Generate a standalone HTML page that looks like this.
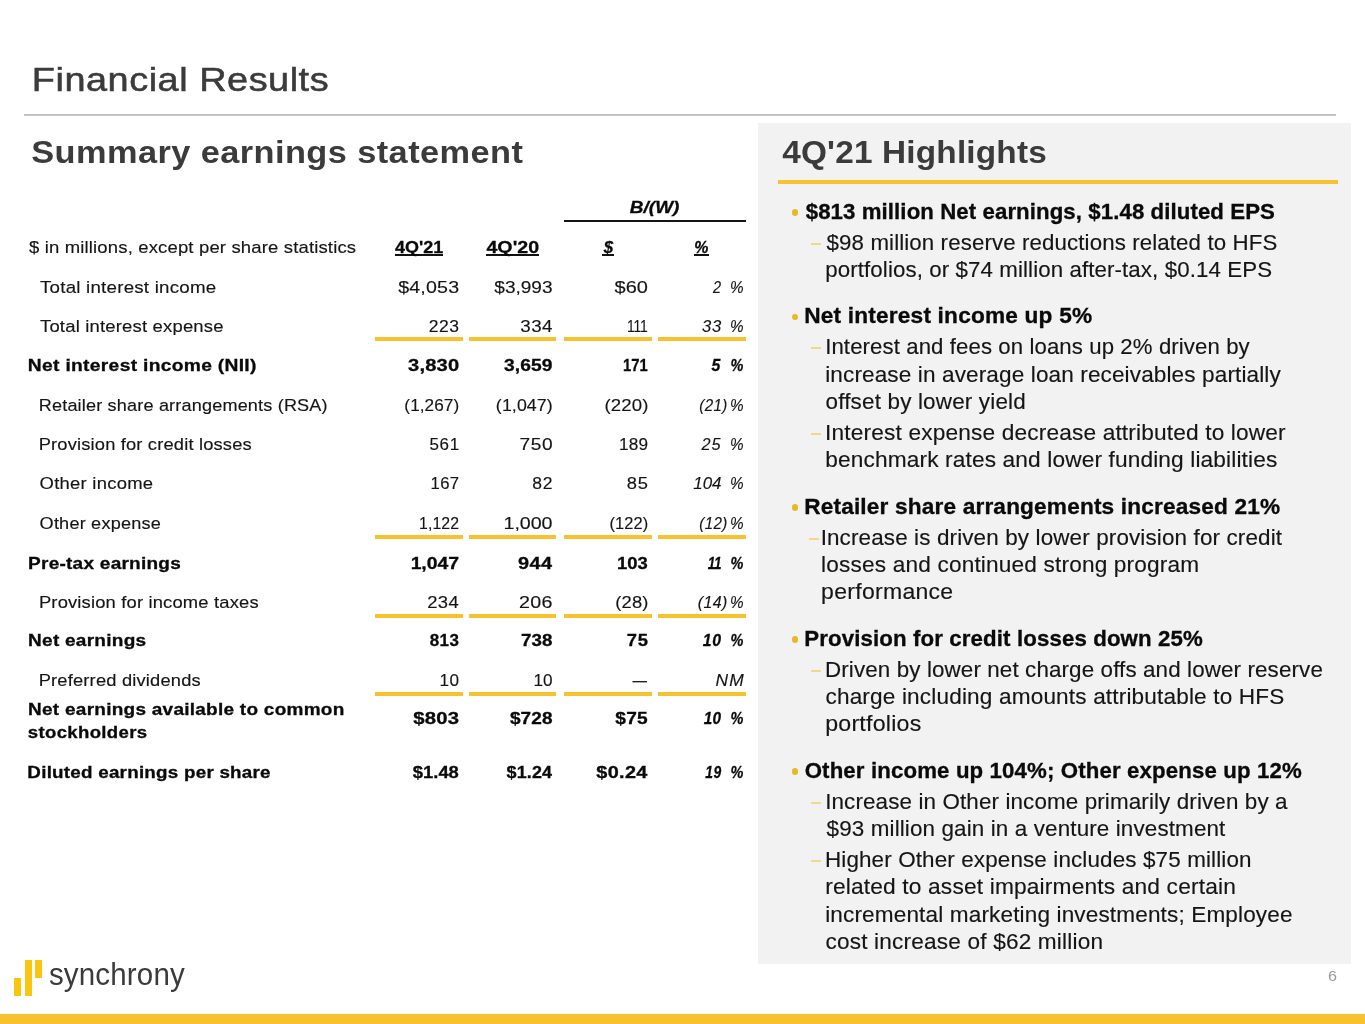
<!DOCTYPE html>
<html lang="en">
<head>
<meta charset="utf-8">
<title>Financial Results</title>
<style>
html,body{margin:0;padding:0;background:#fff}
body{width:1365px;height:1024px;position:relative;overflow:hidden;font-family:"Liberation Sans",sans-serif}
header,main,section,aside,footer,h1,h2,ul,li,p{display:block;margin:0;padding:0;font:inherit;position:static}
.x{position:absolute;white-space:nowrap;transform-origin:0 0;display:block}
.r{position:absolute}
.title{font-size:34px;line-height:41px;font-weight:400;font-style:normal;color:#3b3b3b;-webkit-text-stroke:0.55px #3b3b3b}
.h2{font-size:32px;line-height:38px;font-weight:700;font-style:normal;color:#3b3b3b}
.t{font-size:17px;line-height:20px;font-weight:400;font-style:normal;color:#151515;-webkit-text-stroke:0.15px #151515}
.tb{font-size:17px;line-height:20px;font-weight:700;font-style:normal;color:#0a0a0a;-webkit-text-stroke:0.3px #0a0a0a}
.ti{font-size:17px;line-height:20px;font-weight:400;font-style:italic;color:#151515;-webkit-text-stroke:0.15px #151515}
.tbi{font-size:17px;line-height:20px;font-weight:700;font-style:italic;color:#0a0a0a;-webkit-text-stroke:0.3px #0a0a0a}
.b{font-size:21.5px;line-height:26px;font-weight:700;font-style:normal;color:#0a0a0a;-webkit-text-stroke:0.3px #0a0a0a}
.s{font-size:21.5px;line-height:26px;font-weight:400;font-style:normal;color:#151515;-webkit-text-stroke:0.15px #151515}
.logo{font-size:31px;line-height:37px;font-weight:400;font-style:normal;color:#3b3b3b}
.pg{font-size:15px;line-height:18px;font-weight:400;font-style:normal;color:#9a9a9a}
</style>
</head>
<body>
<header class="header">
<div class="r" style="left:24px;top:114px;width:1312px;height:2px;background:#c4c4c4"></div>
<span class="x title" style="left:31px;top:59px;transform:translateX(0.82px) scaleX(1.1135);letter-spacing:0.478px">Financial Results</span>
</header>
<section class="table">
<div class="r" style="left:564px;top:220px;width:181.5px;height:2px;background:#151515"></div>
<div class="r" style="left:394.6px;top:254.4px;width:48.4px;height:1.6px;background:#111"></div>
<div class="r" style="left:486.3px;top:254.4px;width:52.7px;height:1.6px;background:#111"></div>
<div class="r" style="left:602px;top:254.4px;width:12px;height:1.6px;background:#111"></div>
<div class="r" style="left:694.2px;top:254.4px;width:14.8px;height:1.6px;background:#111"></div>
<div class="r" style="left:375px;top:337px;width:88px;height:4px;background:#f8c12e"></div>
<div class="r" style="left:468.5px;top:337px;width:87.5px;height:4px;background:#f8c12e"></div>
<div class="r" style="left:564px;top:337px;width:88px;height:4px;background:#f8c12e"></div>
<div class="r" style="left:657.6px;top:337px;width:88.4px;height:4px;background:#f8c12e"></div>
<div class="r" style="left:375px;top:535px;width:88px;height:4px;background:#f8c12e"></div>
<div class="r" style="left:468.5px;top:535px;width:87.5px;height:4px;background:#f8c12e"></div>
<div class="r" style="left:564px;top:535px;width:88px;height:4px;background:#f8c12e"></div>
<div class="r" style="left:657.6px;top:535px;width:88.4px;height:4px;background:#f8c12e"></div>
<div class="r" style="left:375px;top:614px;width:88px;height:4px;background:#f8c12e"></div>
<div class="r" style="left:468.5px;top:614px;width:87.5px;height:4px;background:#f8c12e"></div>
<div class="r" style="left:564px;top:614px;width:88px;height:4px;background:#f8c12e"></div>
<div class="r" style="left:657.6px;top:614px;width:88.4px;height:4px;background:#f8c12e"></div>
<div class="r" style="left:375px;top:692.4px;width:88px;height:4px;background:#f8c12e"></div>
<div class="r" style="left:468.5px;top:692.4px;width:87.5px;height:4px;background:#f8c12e"></div>
<div class="r" style="left:564px;top:692.4px;width:88px;height:4px;background:#f8c12e"></div>
<div class="r" style="left:657.6px;top:692.4px;width:88.4px;height:4px;background:#f8c12e"></div>
<span class="x h2" style="left:31px;top:133px;transform:translateX(0.28px) scaleX(1.0735);letter-spacing:0.39px">Summary earnings statement</span>
<span class="x tbi" style="left:629px;top:198px;transform:translateX(0.69px) scaleX(1.1139);letter-spacing:0.068px">B/(W)</span>
<span class="x t" style="left:29px;top:238px;transform:translateX(0px) scaleX(1.0877);letter-spacing:0.144px">$ in millions, except per share statistics</span>
<span class="x tb" style="left:395px;top:238px;transform:translateX(0px) scaleX(1.0581);letter-spacing:-0.012px">4Q&#x27;21</span>
<span class="x tb" style="left:486px;top:238px;transform:translateX(0.43px) scaleX(1.1555);letter-spacing:0.016px">4Q&#x27;20</span>
<span class="x tbi" style="left:603px;top:238px;transform:translateX(0.66px) scaleX(0.9909)">$</span>
<span class="x tbi" style="left:694px;top:238px;transform:translateX(0.34px) scaleX(0.9333)">%</span>
<span class="x t" style="left:40px;top:278px;transform:translateX(0px) scaleX(1.1014);letter-spacing:0.204px">Total interest income</span>
<span class="x t" style="left:398px;top:278px;transform:translateX(0.21px) scaleX(1.1544);letter-spacing:0.141px">$4,053</span>
<span class="x t" style="left:494px;top:278px;transform:translateX(0.32px) scaleX(1.1214);letter-spacing:-0.022px">$3,993</span>
<span class="x t" style="left:614px;top:278px;transform:translateX(0.4px) scaleX(1.1752);letter-spacing:0.107px">$60</span>
<span class="x ti" style="left:712px;top:278px;transform:translateX(0.93px) scaleX(0.85)">2</span>
<span class="x ti" style="left:729px;top:278px;transform:translateX(0.92px) scaleX(0.9)">%</span>
<span class="x t" style="left:40px;top:317px;transform:translateX(0px) scaleX(1.0868);letter-spacing:0.165px">Total interest expense</span>
<span class="x t" style="left:428px;top:317px;transform:translateX(0.74px) scaleX(1.0283);letter-spacing:0.543px">223</span>
<span class="x t" style="left:520px;top:317px;transform:translateX(0.31px) scaleX(1.1036);letter-spacing:0.402px">334</span>
<span class="x t" style="left:626px;top:317px;transform:translateX(0.88px) scaleX(0.8161);letter-spacing:-0.125px">111</span>
<span class="x ti" style="left:702px;top:317px;transform:translateX(0px) scaleX(0.9766);letter-spacing:0.675px">33</span>
<span class="x ti" style="left:729px;top:317px;transform:translateX(0.92px) scaleX(0.9)">%</span>
<span class="x tb" style="left:27px;top:356px;transform:translateX(0.87px) scaleX(1.1321);letter-spacing:0.264px">Net interest income (NII)</span>
<span class="x tb" style="left:408px;top:356px;transform:translateX(0.06px) scaleX(1.1833);letter-spacing:0.161px">3,830</span>
<span class="x tb" style="left:503px;top:356px;transform:translateX(0.91px) scaleX(1.1286);letter-spacing:0.13px">3,659</span>
<span class="x tb" style="left:622px;top:356px;transform:translateX(0.89px) scaleX(0.8696);letter-spacing:0.063px">171</span>
<span class="x tbi" style="left:711px;top:356px;transform:translateX(0.51px) scaleX(0.93)">5</span>
<span class="x tbi" style="left:730px;top:356px;transform:translateX(0.62px) scaleX(0.85)">%</span>
<span class="x t" style="left:38px;top:396px;transform:translateX(0.73px) scaleX(1.0639);letter-spacing:0.159px">Retailer share arrangements (RSA)</span>
<span class="x t" style="left:404px;top:396px;transform:translateX(0.34px) scaleX(1.0091);letter-spacing:0.08px">(1,267)</span>
<span class="x t" style="left:495px;top:396px;transform:translateX(0.87px) scaleX(1.0442);letter-spacing:0.093px">(1,047)</span>
<span class="x t" style="left:604px;top:396px;transform:translateX(0.56px) scaleX(1.094);letter-spacing:0.108px">(220)</span>
<span class="x ti" style="left:699px;top:396px;transform:translateX(0.31px) scaleX(0.8894);letter-spacing:0.4px">(21)</span>
<span class="x ti" style="left:729px;top:396px;transform:translateX(0.92px) scaleX(0.9)">%</span>
<span class="x t" style="left:38px;top:435px;transform:translateX(0.68px) scaleX(1.0776);letter-spacing:0.152px">Provision for credit losses</span>
<span class="x t" style="left:429px;top:435px;transform:translateX(0.61px) scaleX(0.9997);letter-spacing:0.557px">561</span>
<span class="x t" style="left:519px;top:435px;transform:translateX(0.53px) scaleX(1.1251);letter-spacing:0.478px">750</span>
<span class="x t" style="left:618px;top:435px;transform:translateX(0.99px) scaleX(1.0108);letter-spacing:0.194px">189</span>
<span class="x ti" style="left:701px;top:435px;transform:translateX(0.48px) scaleX(0.9582);letter-spacing:0.921px">25</span>
<span class="x ti" style="left:729px;top:435px;transform:translateX(0.92px) scaleX(0.9)">%</span>
<span class="x t" style="left:39px;top:474px;transform:translateX(0.57px) scaleX(1.0835);letter-spacing:0.242px">Other income</span>
<span class="x t" style="left:430px;top:474px;transform:translateX(0.48px) scaleX(0.9811);letter-spacing:0.392px">167</span>
<span class="x t" style="left:532px;top:474px;transform:translateX(0.2px) scaleX(1.0296);letter-spacing:0.773px">82</span>
<span class="x t" style="left:626px;top:474px;transform:translateX(0.67px) scaleX(1.0783);letter-spacing:0.836px">85</span>
<span class="x ti" style="left:693px;top:474px;transform:translateX(0.22px) scaleX(0.9961);letter-spacing:-0.012px">104</span>
<span class="x ti" style="left:729px;top:474px;transform:translateX(0.92px) scaleX(0.9)">%</span>
<span class="x t" style="left:39px;top:514px;transform:translateX(0.59px) scaleX(1.0653);letter-spacing:0.187px">Other expense</span>
<span class="x t" style="left:419px;top:514px;transform:translateX(0.07px) scaleX(0.9297);letter-spacing:0.086px">1,122</span>
<span class="x t" style="left:503px;top:514px;transform:translateX(0.6px) scaleX(1.1561);letter-spacing:-0.056px">1,000</span>
<span class="x t" style="left:609px;top:514px;transform:translateX(0.48px) scaleX(0.9625);letter-spacing:0.166px">(122)</span>
<span class="x ti" style="left:699px;top:514px;transform:translateX(0.31px) scaleX(0.8894);letter-spacing:0.4px">(12)</span>
<span class="x ti" style="left:729px;top:514px;transform:translateX(0.92px) scaleX(0.9)">%</span>
<span class="x tb" style="left:28px;top:554px;transform:translateX(0.06px) scaleX(1.1187);letter-spacing:0.221px">Pre-tax earnings</span>
<span class="x tb" style="left:410px;top:554px;transform:translateX(0.63px) scaleX(1.1415);letter-spacing:-0.048px">1,047</span>
<span class="x tb" style="left:518px;top:554px;transform:translateX(0.01px) scaleX(1.1692);letter-spacing:0.429px">944</span>
<span class="x tb" style="left:616px;top:554px;transform:translateX(0.91px) scaleX(1.0851);letter-spacing:0.083px">103</span>
<span class="x tbi" style="left:707px;top:554px;transform:translateX(0.7px) scaleX(0.8);letter-spacing:-0.45px">11</span>
<span class="x tbi" style="left:730px;top:554px;transform:translateX(0.62px) scaleX(0.85)">%</span>
<span class="x t" style="left:38px;top:593px;transform:translateX(0.92px) scaleX(1.0814);letter-spacing:0.151px">Provision for income taxes</span>
<span class="x t" style="left:427px;top:593px;transform:translateX(0.14px) scaleX(1.0821);letter-spacing:0.419px">234</span>
<span class="x t" style="left:519px;top:593px;transform:translateX(0.02px) scaleX(1.1573);letter-spacing:0.295px">206</span>
<span class="x t" style="left:615px;top:593px;transform:translateX(0.37px) scaleX(1.078);letter-spacing:0.118px">(28)</span>
<span class="x ti" style="left:697px;top:593px;transform:translateX(0.73px) scaleX(0.9401);letter-spacing:0.42px">(14)</span>
<span class="x ti" style="left:729px;top:593px;transform:translateX(0.92px) scaleX(0.9)">%</span>
<span class="x tb" style="left:28px;top:631px;transform:translateX(0.06px) scaleX(1.1195);letter-spacing:0.226px">Net earnings</span>
<span class="x tb" style="left:429px;top:631px;transform:translateX(0.82px) scaleX(0.9997);letter-spacing:0.326px">813</span>
<span class="x tb" style="left:521px;top:631px;transform:translateX(0px) scaleX(1.1036);letter-spacing:0.091px">738</span>
<span class="x tb" style="left:626px;top:631px;transform:translateX(0.71px) scaleX(1.0783);letter-spacing:0.724px">75</span>
<span class="x tbi" style="left:702px;top:631px;transform:translateX(0.67px) scaleX(0.9304);letter-spacing:0.961px">10</span>
<span class="x tbi" style="left:730px;top:631px;transform:translateX(0.62px) scaleX(0.85)">%</span>
<span class="x t" style="left:38px;top:671px;transform:translateX(0.68px) scaleX(1.0765);letter-spacing:0.17px">Preferred dividends</span>
<span class="x t" style="left:439px;top:671px;transform:translateX(0.38px) scaleX(1.0083);letter-spacing:0.579px">10</span>
<span class="x t" style="left:533px;top:671px;transform:translateX(0.38px) scaleX(1.0083);letter-spacing:0.008px">10</span>
<span class="x t" style="left:632px;top:671px;transform:translateX(0.53px) scaleX(0.85)">—</span>
<span class="x ti" style="left:715px;top:671px;transform:translateX(0.38px) scaleX(1.0228);letter-spacing:1.189px">NM</span>
<span class="x tb" style="left:28px;top:700px;transform:translateX(0.07px) scaleX(1.1168);letter-spacing:0.235px">Net earnings available to common</span>
<span class="x tb" style="left:413px;top:709px;transform:translateX(0.25px) scaleX(1.1937);letter-spacing:0.185px">$803</span>
<span class="x tb" style="left:509px;top:709px;transform:translateX(0.96px) scaleX(1.1161);letter-spacing:0.101px">$728</span>
<span class="x tb" style="left:615px;top:709px;transform:translateX(0.34px) scaleX(1.1251);letter-spacing:0.204px">$75</span>
<span class="x tbi" style="left:703px;top:709px;transform:translateX(0.68px) scaleX(0.8995);letter-spacing:0.458px">10</span>
<span class="x tbi" style="left:730px;top:709px;transform:translateX(0.62px) scaleX(0.85)">%</span>
<span class="x tb" style="left:27px;top:723px;transform:translateX(0.79px) scaleX(1.0912);letter-spacing:0.32px">stockholders</span>
<span class="x tb" style="left:27px;top:763px;transform:translateX(0.37px) scaleX(1.105);letter-spacing:0.224px">Diluted earnings per share</span>
<span class="x tb" style="left:412px;top:763px;transform:translateX(0.81px) scaleX(1.0811);letter-spacing:0.009px">$1.48</span>
<span class="x tb" style="left:506px;top:763px;transform:translateX(0.62px) scaleX(1.056);letter-spacing:0.12px">$1.24</span>
<span class="x tb" style="left:596px;top:763px;transform:translateX(0.31px) scaleX(1.1697);letter-spacing:0.276px">$0.24</span>
<span class="x tbi" style="left:705px;top:763px;transform:translateX(0.2px) scaleX(0.8121);letter-spacing:0.71px">19</span>
<span class="x tbi" style="left:730px;top:763px;transform:translateX(0.62px) scaleX(0.85)">%</span>
</section>
<aside class="panel">
<div class="r" style="left:758px;top:123px;width:593px;height:841px;background:#f2f2f2"></div>
<div class="r" style="left:778px;top:180px;width:560px;height:4px;background:#f8c12e"></div>
<div class="r" style="left:791.8px;top:209.2px;width:6.4px;height:6.4px;background:#ebb725;border-radius:50%"></div>
<div class="r" style="left:791.8px;top:313.6px;width:6.4px;height:6.4px;background:#ebb725;border-radius:50%"></div>
<div class="r" style="left:791.8px;top:504.2px;width:6.4px;height:6.4px;background:#ebb725;border-radius:50%"></div>
<div class="r" style="left:791.8px;top:636.2px;width:6.4px;height:6.4px;background:#ebb725;border-radius:50%"></div>
<div class="r" style="left:791.8px;top:768.4px;width:6.4px;height:6.4px;background:#ebb725;border-radius:50%"></div>
<div class="r" style="left:811px;top:243px;width:10px;height:2px;background:#f5d787"></div>
<div class="r" style="left:811px;top:347px;width:10px;height:2px;background:#f5d787"></div>
<div class="r" style="left:811px;top:433px;width:10px;height:2px;background:#f5d787"></div>
<div class="r" style="left:809px;top:538px;width:10px;height:2px;background:#f5d787"></div>
<div class="r" style="left:811px;top:670px;width:10px;height:2px;background:#f5d787"></div>
<div class="r" style="left:811px;top:802px;width:10px;height:2px;background:#f5d787"></div>
<div class="r" style="left:811px;top:860px;width:10px;height:2px;background:#f5d787"></div>
<span class="x h2" style="left:782px;top:133px;transform:translateX(0.25px) scaleX(1.0419);letter-spacing:0.175px">4Q&#x27;21 Highlights</span>
<span class="x b" style="left:805px;top:199px;transform:translateX(0.73px) scaleX(1.0331);letter-spacing:0.085px">$813 million Net earnings, $1.48 diluted EPS</span>
<span class="x s" style="left:826px;top:230px;transform:translateX(0.59px) scaleX(1.036);letter-spacing:0.11px">$98 million reserve reductions related to HFS</span>
<span class="x s" style="left:825px;top:257px;transform:translateX(0.27px) scaleX(1.0358);letter-spacing:0.101px">portfolios, or $74 million after-tax, $0.14 EPS</span>
<span class="x b" style="left:804px;top:303px;transform:translateX(0.15px) scaleX(1.0543);letter-spacing:0.179px">Net interest income up 5%</span>
<span class="x s" style="left:825px;top:334px;transform:translateX(0.17px) scaleX(1.0315);letter-spacing:0.097px">Interest and fees on loans up 2% driven by</span>
<span class="x s" style="left:825px;top:362px;transform:translateX(0.2px) scaleX(1.0485);letter-spacing:0.121px">increase in average loan receivables partially</span>
<span class="x s" style="left:825px;top:389px;transform:translateX(0.51px) scaleX(1.0435);letter-spacing:0.173px">offset by lower yield</span>
<span class="x s" style="left:825px;top:420px;transform:translateX(0.1px) scaleX(1.0546);letter-spacing:0.147px">Interest expense decrease attributed to lower</span>
<span class="x s" style="left:825px;top:447px;transform:translateX(0.24px) scaleX(1.0547);letter-spacing:0.126px">benchmark rates and lower funding liabilities</span>
<span class="x b" style="left:804px;top:494px;transform:translateX(0.16px) scaleX(1.053);letter-spacing:0.156px">Retailer share arrangements increased 21%</span>
<span class="x s" style="left:820px;top:525px;transform:translateX(0.63px) scaleX(1.0436);letter-spacing:0.126px">Increase is driven by lower provision for credit</span>
<span class="x s" style="left:821px;top:552px;transform:translateX(0.11px) scaleX(1.0527);letter-spacing:0.156px">losses and continued strong program</span>
<span class="x s" style="left:821px;top:579px;transform:translateX(0.12px) scaleX(1.0712);letter-spacing:0.255px">performance</span>
<span class="x b" style="left:804px;top:626px;transform:translateX(0.25px) scaleX(1.0354);letter-spacing:0.109px">Provision for credit losses down 25%</span>
<span class="x s" style="left:824px;top:657px;transform:translateX(0.96px) scaleX(1.041);letter-spacing:0.113px">Driven by lower net charge offs and lower reserve</span>
<span class="x s" style="left:825px;top:684px;transform:translateX(0.47px) scaleX(1.0501);letter-spacing:0.157px">charge including amounts attributable to HFS</span>
<span class="x s" style="left:825px;top:711px;transform:translateX(0.15px) scaleX(1.078);letter-spacing:0.219px">portfolios</span>
<span class="x b" style="left:804px;top:758px;transform:translateX(0.69px) scaleX(1.0343);letter-spacing:0.125px">Other income up 104%; Other expense up 12%</span>
<span class="x s" style="left:825px;top:789px;transform:translateX(0.14px) scaleX(1.0424);letter-spacing:0.113px">Increase in Other income primarily driven by a</span>
<span class="x s" style="left:826px;top:816px;transform:translateX(0.59px) scaleX(1.0432);letter-spacing:0.117px">$93 million gain in a venture investment</span>
<span class="x s" style="left:824px;top:847px;transform:translateX(0.96px) scaleX(1.0434);letter-spacing:0.121px">Higher Other expense includes $75 million</span>
<span class="x s" style="left:825px;top:874px;transform:translateX(0.17px) scaleX(1.0579);letter-spacing:0.148px">related to asset impairments and certain</span>
<span class="x s" style="left:825px;top:902px;transform:translateX(0.2px) scaleX(1.0493);letter-spacing:0.134px">incremental marketing investments; Employee</span>
<span class="x s" style="left:825px;top:929px;transform:translateX(0.49px) scaleX(1.0509);letter-spacing:0.175px">cost increase of $62 million</span>
</aside>
<footer class="footer">
<div class="r" style="left:0px;top:1014px;width:1365px;height:10px;background:#f8c12e"></div>
<div class="r" style="left:14px;top:978px;width:7px;height:18px;background:#fac50f"></div>
<div class="r" style="left:25px;top:960px;width:7px;height:36px;background:#fac50f"></div>
<div class="r" style="left:35px;top:960px;width:7px;height:18px;background:#fac50f"></div>
<span class="x pg" style="left:1328px;top:967px;transform:translateX(0.12px) scaleX(1.075)">6</span>
<span class="x logo" style="left:48px;top:956px;transform:translateX(0.88px) scaleX(0.9507);letter-spacing:0.205px">synchrony</span>
</footer>
</body>
</html>
